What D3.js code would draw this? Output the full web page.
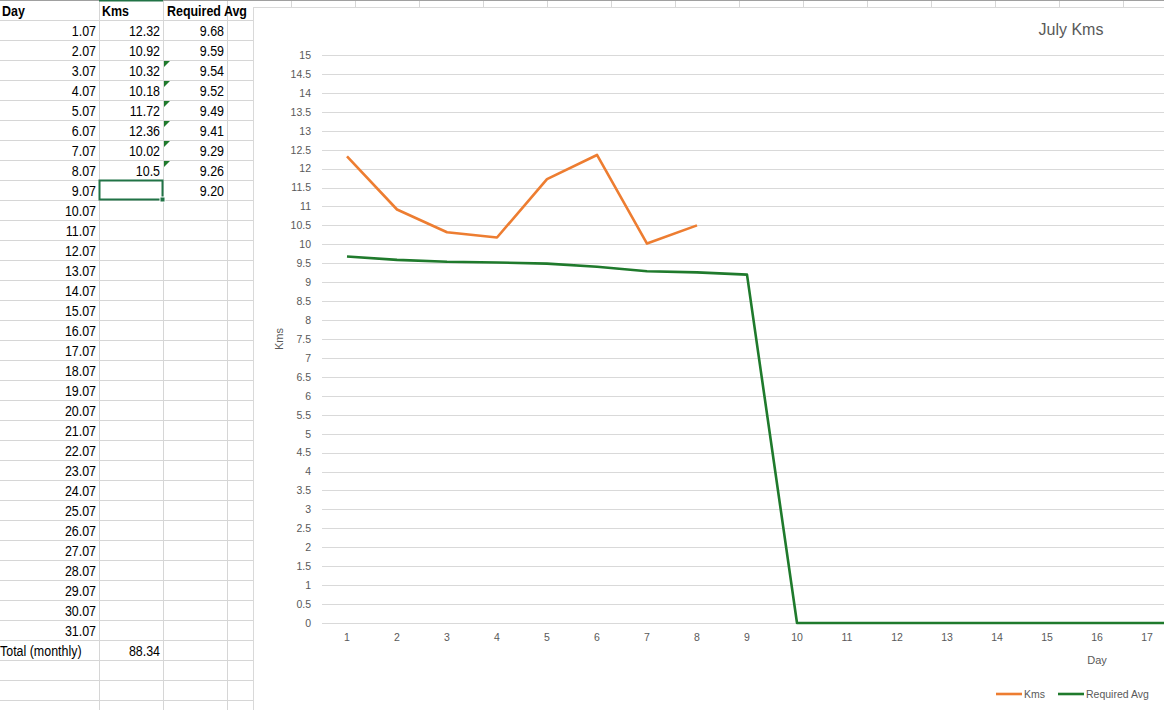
<!DOCTYPE html>
<html>
<head>
<meta charset="utf-8">
<script src="https://cdn.jsdelivr.net/npm/d3@7"></script>
<style>
  body { margin: 0; background: #fff; }
  svg { display: block; }
  .cell { font-family: "Liberation Sans", Arial, sans-serif; font-size: 15px; fill: #000; }
  .head { font-weight: bold; }
  .chart text { font-family: "Liberation Sans", Arial, sans-serif; fill: #595959; }
</style>
</head>
<body>
<div id="sheet"></div>
<script>
// spreadsheet + chart values
const days = d3.range(1, 32);
const kms = [12.32, 10.92, 10.32, 10.18, 11.72, 12.36, 10.02, 10.5];
const requiredAvg = [9.68, 9.59, 9.54, 9.52, 9.49, 9.41, 9.29, 9.26, 9.20,
  0, 0, 0, 0, 0, 0, 0, 0, 0, 0, 0, 0, 0, 0, 0, 0, 0, 0, 0, 0, 0, 0];
const requiredShown = 9; // rows where the sheet shows a value
const flaggedRows = [2, 3, 4, 5, 6, 7];
const headers = ["Day", "Kms", "Required Avg"];
const yTicks = [0, 0.5, 1, 1.5, 2, 2.5, 3, 3.5, 4, 4.5, 5, 5.5, 6, 6.5, 7, 7.5,
  8, 8.5, 9, 9.5, 10, 10.5, 11, 11.5, 12, 12.5, 13, 13.5, 14, 14.5, 15];
const series = [
  { name: "Kms", values: kms, color: "#ed7d31" },
  { name: "Required Avg", values: requiredAvg, color: "#1f7a2c" }
];

const W = 1164, H = 710;
const narrow = 0.83; // sheet font is a narrow face
const svg = d3.select("#sheet").append("svg").attr("width", W).attr("height", H);

renderSheet();
renderChart();

function cellText(g, x, y, txt, anchor, bold) {
  g.append("text")
    .attr("class", bold ? "cell head" : "cell")
    .attr("transform", `translate(${x},${y}) scale(${narrow},1)`)
    .attr("text-anchor", anchor || "start")
    .text(txt);
}

function renderSheet() {
  const rowH = 20;
  const grid = svg.append("g").attr("stroke", "#d6d6d6").attr("stroke-width", 1);
  for (let y = 20; y < H; y += rowH) {
    grid.append("line").attr("x1", 0).attr("x2", 253).attr("y1", y + 0.5).attr("y2", y + 0.5);
  }
  // columns continue above the chart
  for (let x = 99; x < W; x += 64) {
    grid.append("line").attr("x1", x + 0.5).attr("x2", x + 0.5).attr("y1", 0).attr("y2", H);
  }
  svg.append("line").attr("x1", 0).attr("x2", W).attr("y1", 0.5).attr("y2", 0.5)
    .attr("stroke", "#a0a0a0");
  svg.append("line").attr("x1", 99).attr("x2", 163).attr("y1", 0.5).attr("y2", 0.5)
    .attr("stroke", "#217346").attr("stroke-width", 2);

  const t = svg.append("g");
  cellText(t, 2, 16, headers[0], "start", true);
  cellText(t, 102, 16, headers[1], "start", true);
  cellText(t, 167, 16, headers[2], "start", true);

  days.forEach((d, i) => {
    const y = 20 + i * rowH + 16;
    cellText(t, 96, y, d + ".07", "end");
    if (i < kms.length) cellText(t, 160, y, String(kms[i]), "end");
    if (i < requiredShown) cellText(t, 224, y, requiredAvg[i].toFixed(2), "end");
  });
  const totalY = 20 + days.length * rowH + 16;
  cellText(t, 0, totalY, "Total (monthly)", "start");
  cellText(t, 160, totalY, d3.sum(kms).toFixed(2), "end");

  flaggedRows.forEach(r => {
    const y0 = 20 + r * rowH + 1;
    svg.append("path").attr("d", `M164,${y0}L170,${y0}L164,${y0 + 6}Z`).attr("fill", "#1f7a2c");
  });

  // selected cell
  const sy = 20 + kms.length * rowH;
  svg.append("rect").attr("x", 99.5).attr("y", sy + 0.5).attr("width", 63).attr("height", 19)
    .attr("fill", "none").attr("stroke", "#217346").attr("stroke-width", 2);
  svg.append("rect").attr("x", 160).attr("y", sy + 17).attr("width", 5).attr("height", 5)
    .attr("fill", "#217346").attr("stroke", "#fff").attr("stroke-width", 1);
}

function renderChart() {
  const chart = svg.append("g").attr("class", "chart");
  chart.append("rect").attr("x", 253.5).attr("y", 7.5).attr("width", 1700).attr("height", 800)
    .attr("fill", "#fff").attr("stroke", "#d9d9d9");

  const x = d3.scaleBand().domain(days).range([322, 1872]).padding(0);
  const y = d3.scaleLinear().domain([0, 15]).range([623, 55]);

  chart.append("g").selectAll("line").data(yTicks).join("line")
    .attr("x1", 322).attr("x2", 1872)
    .attr("y1", d => Math.round(y(d)) + 0.5).attr("y2", d => Math.round(y(d)) + 0.5)
    .attr("stroke", "#d9d9d9").attr("stroke-width", 1);

  const yAxis = chart.append("g").attr("transform", "translate(322,0)")
    .call(d3.axisLeft(y).tickValues(yTicks).tickFormat(d => String(d)).tickSize(0).tickPadding(11));
  yAxis.select(".domain").remove();
  yAxis.selectAll("text").attr("font-size", 10.5).attr("fill", "#595959")
    .attr("font-family", "Liberation Sans, Arial, sans-serif");

  // only the days inside the window get a label, the rest of the chart runs off-screen
  const shownDays = days.filter(d => x(d) + x.bandwidth() / 2 + 8 < W);
  const xAxis = chart.append("g").attr("transform", "translate(0,623)")
    .call(d3.axisBottom(x).tickValues(shownDays).tickSize(0).tickPadding(11));
  xAxis.select(".domain").attr("stroke", "#d9d9d9");
  xAxis.selectAll("text").attr("font-size", 10.5).attr("fill", "#595959")
    .attr("font-family", "Liberation Sans, Arial, sans-serif");

  const line = d3.line().x((d, i) => x(days[i]) + x.bandwidth() / 2).y(d => y(d));
  series.slice().reverse().forEach(s => {
    chart.append("path").datum(s.values).attr("fill", "none")
      .attr("stroke", s.color).attr("stroke-width", 2.6)
      .attr("stroke-linejoin", "round").attr("d", line);
  });

  chart.append("text").attr("x", 1071).attr("y", 35).attr("text-anchor", "middle")
    .attr("font-size", 16).attr("font-family", "Lato, Open Sans, sans-serif").text("July Kms");
  chart.append("text").attr("transform", `translate(283,${(y(0) + y(15)) / 2}) rotate(-90)`)
    .attr("text-anchor", "middle").attr("font-size", 11).text("Kms");
  chart.append("text").attr("x", (322 + 1872) / 2).attr("y", 664).attr("text-anchor", "middle")
    .attr("font-size", 11).text("Day");

  const legendX = [996, 1058];
  const leg = chart.append("g").selectAll("g").data(series).join("g")
    .attr("transform", (d, i) => `translate(${legendX[i]},694)`);
  leg.append("line").attr("x1", 0).attr("x2", 26).attr("stroke", d => d.color).attr("stroke-width", 2.6);
  leg.append("text").attr("x", 28).attr("y", 4).attr("font-size", 10.5).text(d => d.name);
}
</script>
</body>
</html>
